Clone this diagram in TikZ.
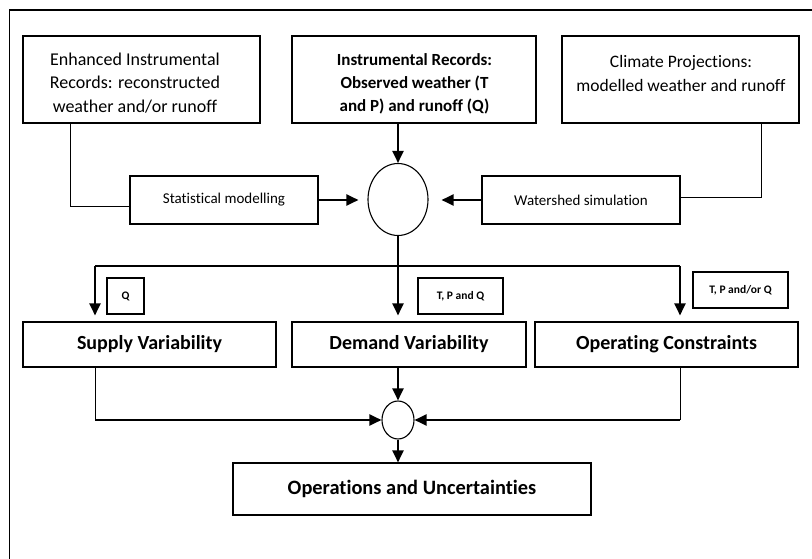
\documentclass[tikz,border=0pt]{standalone}
\usepackage{fontspec}
\setmainfont[Ligatures={NoCommon}]{Carlito}
\usetikzlibrary{arrows.meta,calc,shapes.geometric}
\begin{document}
\begin{tikzpicture}[x=1pt,y=-1pt,
  box/.style={draw, line width=1.1pt, inner sep=0pt},
  txt/.style={align=center, inner sep=0pt, font=\fontsize{17.5}{23.5}\selectfont},
  midbox/.style={box, minimum height=48pt, font=\fontsize{15}{18}\selectfont},
  lab/.style={box, minimum height=36pt, font=\bfseries\fontsize{11.5}{14}\selectfont},
  big/.style={box, minimum height=45pt, font=\bfseries\fontsize{20}{24}\selectfont},
  thinline/.style={line width=1pt},
  arr/.style={line width=2pt, -{Triangle[length=12pt,width=11pt]}},
  circ/.style={draw, ellipse, line width=1.1pt, inner sep=0pt}
]
\useasboundingbox (0,0) rectangle (812,559);
\fill[white] (0,0) rectangle (812,559);
\draw[line width=1.3pt] (9.5,559) -- (9.5,10) -- (812,10);

% top row
\node[box, minimum width=237pt, minimum height=87pt] (enh) at (141.5,79.5) {};
\node[txt, font=\fontsize{18}{23.5}\selectfont] (enht) at (135,83) {Enhanced Instrumental\\Records: reconstructed\\weather and/or runoff};
\node[box, minimum width=244pt, minimum height=87pt] (obs) at (414,79.5) {};
\node[txt, font=\bfseries\fontsize{17}{23}\selectfont] (obst) at (414.5,84) {Instrumental Records:\\Observed weather (T\\and P) and runoff (Q)};
\node[box, minimum width=237pt, minimum height=87pt] (clim) at (680.5,79.5) {};
\node[txt] (climt) at (681,73.5) {Climate Projections:\\modelled weather and runoff};

% middle
\node[midbox, minimum width=188pt] (stat) at (224,200) {Statistical modelling};
\node[midbox, minimum width=198pt] (ws) at (581,200) {Watershed simulation};
\node[circ, minimum width=60pt, minimum height=72pt] (c1) at (398,199.5) {};

% labels
\node[lab, minimum width=37pt] (lq) at (125.5,296) {Q};
\node[lab, minimum width=85pt] (ltpq) at (460.5,296) {T, P and Q};
\node[lab, minimum width=95pt] (ltpoq) at (740.5,290) {T, P and/or Q};

% row 2
\node[big, minimum width=253pt] (sup) at (149.5,344.5) {Supply Variability};
\node[big, minimum width=234pt] (dem) at (409,344.5) {Demand Variability};
\node[big, minimum width=263pt] (opc) at (666.5,344.5) {Operating Constraints};
\node[circ, minimum width=32pt, minimum height=38pt] (c2) at (398,420) {};
\node[big, minimum width=358pt, minimum height=52pt, font=\bfseries\fontsize{20.4}{24}\selectfont] (ops) at (412,489) {Operations and Uncertainties};

% connectors
\draw[arr] (c1.north |- obs.south) -- (c1.north);
\coordinate (ej) at (70,207);
\draw[thinline] (enh.south -| ej) |- (stat.west |- ej);
\draw[arr, shorten >=9pt] (stat.east) -- (stat.east -| c1.west);
\coordinate (cj) at (761,198);
\draw[thinline] (clim.south -| cj) |- (ws.east |- cj);
\draw[arr, shorten >=13pt] (ws.west) -- (ws.west -| c1.east);

\coordinate (bl) at (95,266);
\coordinate (brr) at (680,266);
\draw[line width=1.7pt] (bl) -- (brr);
\draw[arr, shorten >=6pt] (bl) -- (bl |- sup.north);
\draw[arr, shorten >=6pt] (brr) -- (brr |- opc.north);
\draw[arr, shorten >=6pt] (c1.south) -- (c1.south |- dem.north);

\coordinate (jl) at (95,420);
\coordinate (jr) at (680,420);
\draw[thinline] (sup.south -| jl) -- (jl);
\draw[arr] (jl) -- (c2.west);
\draw[thinline] (opc.south -| jr) -- (jr);
\draw[arr] (jr) -- (c2.east);
\draw[arr] (c2.north |- dem.south) -- (c2.north);
\draw[arr] (c2.south) -- (c2.south |- ops.north);
\end{tikzpicture}
\end{document}
